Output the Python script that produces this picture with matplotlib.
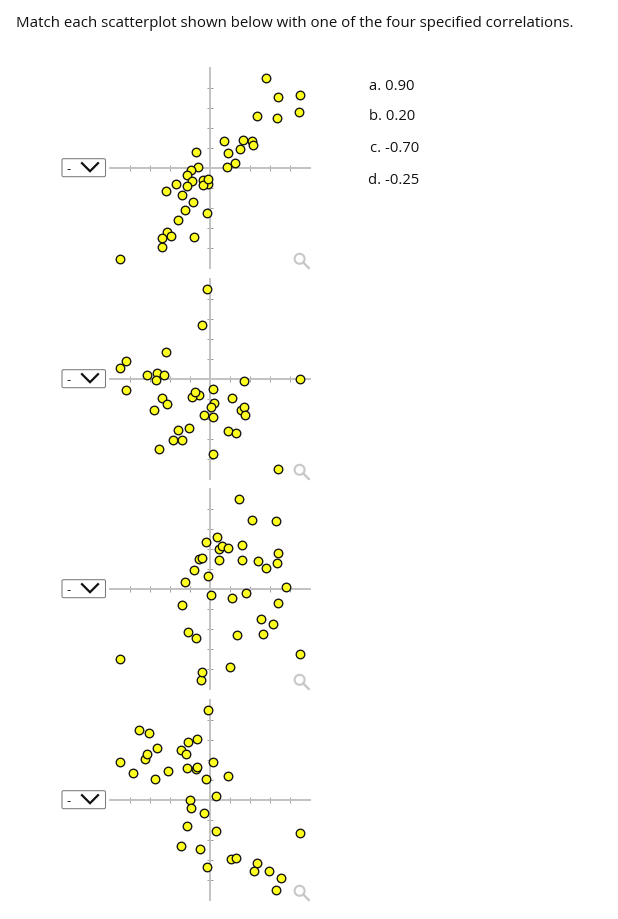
import matplotlib
matplotlib.use("Agg")
import matplotlib.pyplot as plt
from matplotlib.lines import Line2D
from matplotlib.patches import FancyBboxPatch, Circle
from matplotlib.transforms import IdentityTransform

plt.rcParams['font.family'] = ['Open Sans', 'DejaVu Sans']

title = "Match each scatterplot shown below with one of the four specified correlations."
options = ["a. 0.90", "b. 0.20", "c. -0.70", "d. -0.25"]
ticks = [-4, -3, -2, -1, 1, 2, 3, 4]

x1 = [2.82,3.42,4.52,2.37,3.33,4.47,0.70,1.67,2.10,2.15,1.50,0.90,1.27,0.87,-0.70,-0.58,-0.93,-1.13,-0.92,-0.10,-0.33,-0.35,-0.12,-1.17,-1.70,-2.22,-1.42,-0.85,-1.23,-0.15,-1.58,-2.17,-2.38,-1.93,-0.80,-2.42,-4.52]
y1 = [4.50,3.57,3.65,2.63,2.52,2.83,1.35,1.42,1.37,1.18,0.97,0.75,0.27,0.08,0.82,0.05,-0.08,-0.35,-0.63,-0.77,-0.57,-0.83,-0.52,-0.88,-0.78,-1.13,-1.32,-1.68,-2.08,-2.23,-2.57,-3.18,-3.47,-3.38,-3.43,-3.95,-4.52]

x2 = [-0.13,-0.38,-2.22,-4.22,-4.52,-3.17,-2.65,-2.32,-2.68,-4.20,1.70,4.50,0.17,-0.55,-0.92,-0.77,-2.38,-2.13,-2.80,1.08,0.18,0.07,1.55,1.72,1.77,-0.28,0.15,-1.07,-1.60,-1.83,-1.38,-2.53,0.88,1.30,0.15,3.38]
y2 = [4.50,2.72,1.38,0.92,0.55,0.22,0.32,0.20,-0.03,-0.55,-0.08,0.02,-0.48,-0.77,-0.87,-0.63,-0.95,-1.23,-1.52,-0.93,-1.20,-1.37,-1.53,-1.40,-1.77,-1.80,-1.88,-2.42,-2.55,-3.05,-3.05,-3.47,-2.57,-2.68,-3.75,-4.50]

x3 = [1.45,2.12,3.30,0.37,-0.18,0.47,0.62,0.92,1.62,-0.55,-0.40,0.45,1.60,2.42,2.78,3.33,3.42,-0.82,-0.12,-1.23,3.80,0.07,1.12,1.82,-1.40,3.40,2.55,3.13,-1.10,-0.72,1.37,2.65,-4.52,4.50,0.98,-0.43,-0.38]
y3 = [4.50,3.48,3.40,2.63,2.38,2.02,2.18,2.08,2.22,1.52,1.58,1.47,1.47,1.43,1.08,1.30,1.80,0.97,0.65,0.35,0.12,-0.28,-0.43,-0.18,-0.80,-0.70,-1.48,-1.75,-2.13,-2.45,-2.30,-2.23,-3.47,-3.22,-3.87,-4.52,-4.15]

x4 = [-0.08,-3.57,-3.07,-0.63,-1.08,-2.67,-1.43,-1.22,-3.23,-3.17,-4.52,-3.83,-2.77,-2.12,-1.15,-0.72,-0.65,0.13,0.92,-0.20,0.30,-0.98,-0.93,-0.32,-1.15,0.30,4.50,-1.43,-0.48,1.07,1.32,-0.13,2.37,2.20,2.97,3.55,3.32]
y4 = [4.50,3.52,3.35,3.08,2.90,2.60,2.52,2.32,2.07,2.32,1.90,1.38,1.08,1.48,1.60,1.57,1.67,1.90,1.22,1.07,0.20,0.02,-0.38,-0.63,-1.30,-1.55,-1.62,-2.30,-2.42,-2.92,-2.88,-3.35,-3.15,-3.55,-3.53,-3.90,-4.50]

panels = [(x1, y1), (x2, y2), (x3, y3), (x4, y4)]
centers = [169.2, 380.2, 590.2, 801.2]

W, H = 618, 920
fig = plt.figure(figsize=(W / 100, H / 100), dpi=100, facecolor="white")
ident = IdentityTransform()


def px(x, y):
    return x, H - y


for (xs, ys), cy in zip(panels, centers):
    ax = fig.add_axes([110 / W, (H - cy - 100) / H, 200 / W, 200 / H])
    ax.set_xlim(-5, 5)
    ax.set_ylim(-5, 5)
    ax.patch.set_alpha(0)
    for s in ("top", "right"):
        ax.spines[s].set_visible(False)
    for s in ("left", "bottom"):
        ax.spines[s].set_position("zero")
        ax.spines[s].set_color("#c2c2c2")
        ax.spines[s].set_linewidth(1.4)
    ax.set_xticks(ticks)
    ax.set_yticks(ticks)
    ax.tick_params(length=4.0, width=0.7, color="#a0a0a0", direction="inout",
                   labelbottom=False, labelleft=False)
    ax.add_patch(Circle((4.48, -4.53), 0.25, fill=False, ec="#c8c8c8", lw=1.5, clip_on=False))
    ax.plot([4.66, 4.95], [-4.71, -5.0], color="#c8c8c8", lw=1.7, clip_on=False,
            solid_capstyle="round")
    ax.scatter(xs, ys, s=38, c="#ffff1f", edgecolors="#111111", linewidths=0.95,
               clip_on=False, zorder=5)

    x0, y0 = px(62, cy + 8.5)
    fig.add_artist(FancyBboxPatch((x0, y0), 43.5, 18, boxstyle="round,pad=0,rounding_size=1.5",
                                  fc="white", ec="#7a7a7a", lw=0.75, transform=ident))
    tx, ty = px(66, cy + 0.5)
    fig.text(tx / W, ty / H, "-", fontsize=9.5, color="#111111", va="center", ha="left")
    xa, ya = px(82, cy - 5)
    xb, yb = px(90, cy + 3)
    xc, yc = px(98, cy - 5)
    fig.add_artist(Line2D([xa, xb, xc], [ya, yb, yc], color="#111111", lw=1.6, transform=ident,
                          solid_joinstyle="miter"))

fig.text(16 / W, 1 - 23.5 / H, title, fontsize=10.8, color="#111111", va="center", ha="left")

opt_x = [369, 369, 370.5, 368.5]
opt_y = [86.5, 117, 149, 180]
for s, ox, oy in zip(options, opt_x, opt_y):
    fig.text(ox / W, 1 - oy / H, s, fontsize=10.6, color="#111111", va="center", ha="left")

fig.savefig("out.png", dpi=100, facecolor="white")
